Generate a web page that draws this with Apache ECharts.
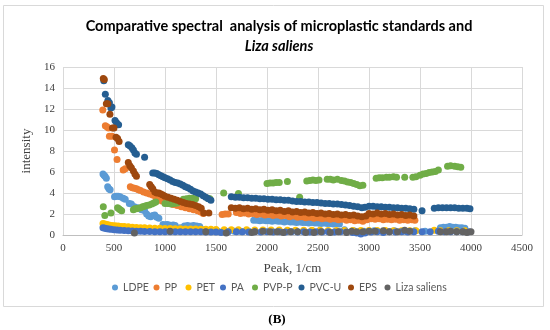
<!DOCTYPE html>
<html>
<head>
<meta charset="utf-8">
<script src="https://cdn.jsdelivr.net/npm/echarts@6/dist/echarts.min.js"></script>
<style>html,body{margin:0;padding:0;background:#fff}#c{width:550px;height:330px}</style>
</head>
<body>
<div id="c"></div>
<script>
var xTicks = [0, 500, 1000, 1500, 2000, 2500, 3000, 3500, 4000, 4500];
var yTicks = [0, 2, 4, 6, 8, 10, 12, 14, 16];
var seriesNames = ['LDPE', 'PP', 'PET', 'PA', 'PVP-P', 'PVC-U', 'EPS', 'Liza saliens'];
var seriesColors = ['#5B9BD5', '#ED7D31', '#FFC000', '#4472C4', '#70AD47', '#255E91', '#9E480E', '#636363'];

var LDPE = [[392,5.8],[402,5.7],[412,5.6],[425,5.4],[438,4.6],[450,4.4],[462,4.3],[505,3.65],[520,3.7],[540,3.7],[560,3.65],[590,3.5],[610,3.4],[650,3.0],[670,2.95],[700,2.7],[730,2.6],[770,2.4],[800,2.3],[820,2.0],[840,1.8],[860,1.75],[880,1.85],[900,1.9],[920,1.7],[940,1.6],[980,1.0],[1000,0.95],[1020,1.0],[1040,0.95],[1060,0.9],[1080,0.95],[1100,0.9],[1150,0.7],[1190,0.85],[1220,0.9],[1250,0.85],[1280,0.9],[1310,0.85],[1340,0.8],[1380,0.5],[1450,0.4],[1520,0.35],[1600,0.3],[1680,0.35],[1750,0.3],[1820,0.35],[1870,1.4],[1900,1.4],[1930,1.35],[1960,1.4],[1990,1.35],[2020,1.35],[2050,1.3],[2080,1.35],[2110,1.3],[2140,1.3],[2170,1.25],[2200,1.3],[2230,1.25],[2260,1.25],[2290,1.2],[2320,1.25],[2350,1.2],[2380,1.2],[2410,1.15],[2440,1.2],[2470,1.15],[2500,1.15],[2530,1.1],[2560,1.15],[2590,1.1],[2620,1.1],[2650,1.05],[2680,1.1],[2710,1.05],[2760,0.5],[2850,0.4],[2950,0.35],[3050,0.4],[3150,0.35],[3250,0.4],[3350,0.35],[3450,0.4],[3550,0.35],[3700,0.7],[3730,0.75],[3760,0.75],[3790,0.8],[3820,0.75],[3850,0.75],[3880,0.7],[3910,0.7],[3940,0.65]];

var PP = [[390,11.9],[415,10.4],[430,10.3],[445,10.2],[455,9.4],[480,9.4],[505,8.1],[530,7.2],[590,6.2],[610,6.3],[660,4.6],[680,4.5],[700,4.45],[720,4.4],[740,4.3],[760,4.25],[790,4.1],[820,4.0],[850,3.9],[880,3.8],[910,3.6],[940,3.4],[970,3.25],[1000,3.15],[1040,3.0],[1080,2.9],[1120,2.8],[1160,2.7],[1200,2.6],[1240,2.5],[1280,2.4],[1320,2.3],[1350,2.2],[1375,2.05],[1560,1.95],[1590,2.0],[1620,2.0],[1700,2.15],[1740,2.05],[1780,2.1],[1820,2.0],[1860,2.05],[1900,1.95],[1940,2.0],[1980,1.9],[2020,1.95],[2060,1.85],[2100,1.9],[2140,1.8],[2180,1.85],[2220,1.75],[2260,1.8],[2300,1.7],[2340,1.75],[2380,1.65],[2420,1.7],[2460,1.6],[2500,1.65],[2540,1.55],[2580,1.6],[2620,1.5],[2660,1.55],[2700,1.45],[2740,1.5],[2780,1.4],[2820,1.45],[2860,1.35],[2900,1.4],[2940,1.3],[2980,1.45],[3020,1.55],[3060,1.5],[3100,1.55],[3140,1.45],[3180,1.5],[3220,1.45],[3260,1.5],[3300,1.4],[3340,1.45],[3380,1.4],[3420,1.45],[3450,1.4]];

var PET = [[392,1.1],[410,1.05],[430,1.0],[450,0.95],[480,0.9],[510,0.88],[540,0.85],[570,0.82],[600,0.8],[640,0.78],[680,0.75],[720,0.72],[760,0.7],[800,0.68],[850,0.66],[900,0.65],[950,0.64],[1000,0.63],[1050,0.62],[1100,0.6],[1150,0.6],[1200,0.58],[1250,0.58],[1300,0.56],[1350,0.55],[1400,0.55],[1450,0.55],[1500,0.53],[1580,0.5],[1650,0.5],[1720,0.5],[1800,0.5],[1880,0.48],[1960,0.48],[2040,0.47],[2120,0.47],[2200,0.46],[2280,0.46],[2360,0.45],[2440,0.45],[2520,0.45],[2600,0.44],[2680,0.44],[2760,0.43],[2840,0.43],[2920,0.42],[3000,0.42],[3080,0.42],[3160,0.42],[3240,0.41],[3320,0.41],[3400,0.4],[3460,0.4],[3640,0.45],[3700,0.4],[3780,0.4],[3860,0.4],[3940,0.4]];

var PA = [[392,0.7],[410,0.65],[430,0.6],[450,0.58],[470,0.55],[500,0.5],[530,0.48],[560,0.45],[600,0.42],[640,0.4],[680,0.38],[720,0.36],[760,0.35],[800,0.34],[850,0.33],[900,0.32],[950,0.32],[1000,0.31],[1050,0.3],[1100,0.3],[1150,0.3],[1200,0.3],[1250,0.3],[1300,0.3],[1350,0.3],[1400,0.28],[1450,0.28],[1500,0.28],[1550,0.25],[1620,0.3],[1700,0.3],[1760,0.3],[1820,0.28],[1880,0.3],[1940,0.28],[2000,0.3],[2060,0.28],[2120,0.3],[2180,0.28],[2240,0.3],[2300,0.28],[2360,0.3],[2420,0.28],[2480,0.3],[2540,0.28],[2600,0.3],[2660,0.28],[2720,0.3],[2780,0.28],[2840,0.25],[2880,0.2],[2920,0.1],[2960,0.2],[3020,0.28],[3080,0.3],[3140,0.25],[3200,0.3],[3260,0.28],[3320,0.3],[3380,0.28],[3440,0.3],[3520,0.3],[3600,0.3],[3680,0.35],[3740,0.3],[3800,0.3],[3860,0.3],[3920,0.3],[3980,0.3]];

var PVPP = [[395,2.7],[410,1.85],[470,2.1],[535,2.6],[548,2.5],[560,2.4],[575,2.3],[690,2.4],[705,2.5],[720,2.5],[740,2.55],[760,2.6],[780,2.7],[800,2.75],[820,2.8],[845,2.85],[870,2.95],[890,3.05],[910,3.15],[1000,3.0],[1030,3.0],[1060,2.95],[1090,3.0],[1120,3.05],[1180,3.4],[1210,3.45],[1240,3.5],[1270,3.5],[1300,3.45],[1420,3.5],[1440,3.45],[1575,4.0],[1720,3.95],[2000,4.9],[2030,4.95],[2060,4.95],[2090,5.0],[2120,5.0],[2200,5.1],[2320,3.6],[2390,5.15],[2420,5.2],[2450,5.25],[2480,5.2],[2510,5.25],[2590,5.3],[2620,5.3],[2650,5.25],[2690,5.3],[2730,5.2],[2760,5.15],[2790,5.05],[2820,5.0],[2850,4.9],[2880,4.8],[2910,4.7],[2940,4.75],[3070,5.4],[3100,5.45],[3130,5.45],[3170,5.5],[3200,5.5],[3240,5.55],[3270,5.5],[3350,5.5],[3430,5.5],[3460,5.55],[3500,5.7],[3530,5.8],[3560,5.85],[3590,5.95],[3620,6.0],[3650,6.05],[3680,6.2],[3770,6.55],[3800,6.6],[3840,6.55],[3870,6.5],[3900,6.45]];

var PVCU = [[400,14.7],[415,13.4],[440,12.8],[455,12.6],[470,12.1],[480,12.2],[510,10.9],[525,10.7],[545,10.5],[640,8.6],[655,8.5],[675,8.3],[690,8.1],[705,7.8],[720,7.7],[800,7.4],[880,5.9],[900,5.9],[920,5.85],[940,5.75],[960,5.65],[980,5.55],[1000,5.45],[1025,5.35],[1050,5.25],[1075,5.1],[1100,5.0],[1125,4.95],[1150,4.85],[1175,4.75],[1200,4.6],[1225,4.5],[1250,4.35],[1275,4.2],[1300,4.1],[1325,4.0],[1350,3.9],[1375,3.75],[1400,3.6],[1425,3.45],[1450,3.3],[1650,3.65],[1690,3.6],[1730,3.6],[1770,3.55],[1810,3.55],[1850,3.5],[1890,3.5],[1930,3.45],[1970,3.45],[2010,3.4],[2050,3.4],[2090,3.35],[2130,3.35],[2170,3.3],[2210,3.3],[2250,3.25],[2290,3.2],[2330,3.2],[2370,3.15],[2410,3.15],[2450,3.1],[2490,3.1],[2530,3.05],[2570,3.0],[2610,3.0],[2650,2.95],[2690,2.95],[2730,2.9],[2770,2.85],[2810,2.8],[2850,2.75],[2890,2.7],[2930,2.6],[2960,2.65],[3000,2.75],[3040,2.75],[3080,2.7],[3120,2.7],[3160,2.65],[3200,2.65],[3240,2.6],[3280,2.6],[3320,2.55],[3360,2.55],[3400,2.5],[3440,2.45],[3520,2.3],[3640,2.55],[3680,2.6],[3720,2.6],[3760,2.6],[3800,2.6],[3840,2.6],[3880,2.55],[3920,2.55],[3960,2.55],[3990,2.5]];

var EPS = [[395,14.9],[405,14.8],[425,12.5],[440,12.5],[460,11.5],[485,10.2],[500,10.2],[520,9.3],[535,9.2],[550,8.9],[640,6.9],[655,6.6],[670,6.4],[690,6.1],[705,5.8],[720,5.6],[850,4.8],[865,4.6],[880,4.4],[900,4.1],[920,4.0],[940,4.0],[960,3.9],[980,3.8],[1000,3.7],[1030,3.6],[1060,3.5],[1090,3.4],[1120,3.3],[1150,3.2],[1180,3.1],[1210,3.0],[1240,2.95],[1270,2.9],[1300,2.8],[1330,2.7],[1355,2.55],[1380,2.1],[1430,2.1],[1650,2.6],[1690,2.55],[1730,2.6],[1770,2.5],[1810,2.55],[1850,2.45],[1890,2.5],[1930,2.4],[1970,2.45],[2010,2.35],[2050,2.4],[2090,2.3],[2130,2.35],[2170,2.25],[2210,2.3],[2250,2.2],[2290,2.25],[2330,2.15],[2370,2.2],[2410,2.1],[2450,2.15],[2490,2.05],[2530,2.1],[2570,2.0],[2610,2.05],[2650,1.95],[2690,2.0],[2730,1.9],[2770,1.95],[2810,1.85],[2850,1.9],[2890,1.8],[2930,1.75],[2970,1.8],[3000,2.05],[3040,2.0],[3080,2.1],[3120,2.0],[3160,2.05],[3200,1.95],[3240,2.0],[3280,1.9],[3320,1.95],[3360,1.85],[3400,1.9],[3440,1.8]];

var LIZA = [[700,0.2],[1050,0.35],[1400,0.3],[1600,0.2],[1850,0.25],[1880,0.3],[1960,0.35],[2030,0.3],[2100,0.3],[2160,0.25],[2230,0.3],[2300,0.3],[2380,0.25],[2460,0.25],[2530,0.3],[2620,0.25],[2700,0.3],[2780,0.25],[2830,0.35],[2880,0.3],[2940,0.3],[3000,0.35],[3060,0.35],[3140,0.4],[3200,0.3],[3280,0.3],[3350,0.45],[3400,0.35],[3700,0.3],[3760,0.3],[3800,0.35],[3860,0.3],[3920,0.3],[3960,0.25],[4000,0.3]];

var seriesData = [LDPE, PP, PET, PA, PVPP, PVCU, EPS, LIZA];
var legendX = [115, 156.5, 188.5, 223, 255, 301.5, 351, 387.5];

var chart = echarts.init(document.getElementById('c'), null, {renderer: 'canvas'});
var serif = '"Liberation Serif", "Times New Roman", serif';
var sans = 'Lato, "Liberation Sans", sans-serif';

var legends = seriesNames.map(function (n, i) {
  return {
    data: [n], left: legendX[i] - 3, top: 282, padding: 0,
    icon: 'circle', itemWidth: 6, itemHeight: 6,
    textStyle: {fontFamily: sans, fontSize: 10.5, color: '#595959'}
  };
});

chart.setOption({
  animation: false,
  backgroundColor: '#ffffff',
  title: [{
    text: '{a|Comparative spectral  analysis of microplastic standards and}\n{b|Liza saliens}',
    left: 279, top: 17, padding: 0, textAlign: 'center',
    textStyle: {
      rich: {
        a: {fontFamily: sans, fontWeight: 'bold', fontSize: 14.5, color: '#000', lineHeight: 19.5, align: 'center'},
        b: {fontFamily: sans, fontWeight: 'bold', fontStyle: 'italic', fontSize: 14.5, color: '#000', lineHeight: 19.5, align: 'center'}
      }
    }
  }, {
    text: '(B)', left: 277, top: 313, padding: 0, textAlign: 'center',
    textStyle: {fontFamily: serif, fontWeight: 'bold', fontSize: 13, color: '#000'}
  }],
  graphic: [{
    type: 'rect', shape: {x: 3.5, y: 5.5, width: 540, height: 301},
    style: {fill: 'none', stroke: '#d9d9d9', lineWidth: 1}, z: -1
  }],
  legend: legends,
  grid: {left: 63, right: 28, top: 67, bottom: 95},
  xAxis: {
    type: 'value', min: xTicks[0], max: xTicks[xTicks.length - 1], interval: 500,
    name: 'Peak, 1/cm', nameLocation: 'middle', nameGap: 27,
    nameTextStyle: {fontFamily: serif, fontSize: 13, color: '#404040'},
    axisLine: {show: true, lineStyle: {color: '#bfbfbf'}},
    axisTick: {show: false},
    axisLabel: {fontFamily: serif, fontSize: 11, color: '#404040', margin: 8,
      formatter: function (v) { return String(v); }},
    splitLine: {show: true, lineStyle: {color: '#d9d9d9'}}
  },
  yAxis: {
    type: 'value', min: yTicks[0], max: yTicks[yTicks.length - 1], interval: 2,
    name: 'intensity', nameLocation: 'middle', nameGap: 23, nameRotate: 90,
    nameTextStyle: {fontFamily: serif, fontSize: 13, color: '#404040'},
    axisLine: {show: false}, axisTick: {show: false},
    axisLabel: {fontFamily: serif, fontSize: 11, color: '#404040', margin: 8,
      formatter: function (v) { return String(v); }},
    splitLine: {show: true, lineStyle: {color: '#d9d9d9'}}
  },
  series: seriesNames.map(function (n, i) {
    return {
      name: n, type: 'scatter', data: seriesData[i],
      symbol: 'circle', symbolSize: 7,
      itemStyle: {color: seriesColors[i], opacity: 1}
    };
  })
});
</script>
</body>
</html>
